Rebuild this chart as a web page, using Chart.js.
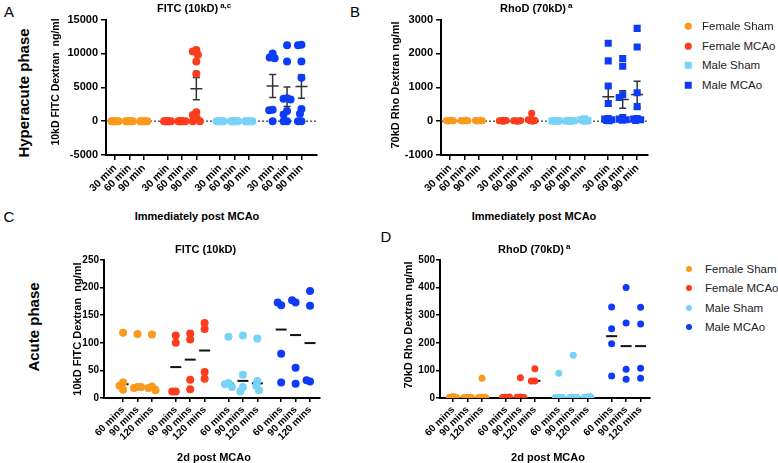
<!DOCTYPE html>
<html>
<head>
<meta charset="utf-8">
<script src="https://cdn.jsdelivr.net/npm/chart.js@4.4.1/dist/chart.umd.min.js"></script>
<style>
  body { margin: 0; background: #fff; }
  #fig { position: relative; width: 778px; height: 463px; overflow: hidden; font-family: "Liberation Sans", Arial, Helvetica, sans-serif; color: #000; }
  #fig canvas { position: absolute; }
  .c { position: absolute; white-space: nowrap; transform: translate(-50%, -50%); }
  .l { position: absolute; white-space: nowrap; transform: translateY(-50%); font-weight: bold; font-size: 11px; }
  .v { position: absolute; white-space: nowrap; transform: translate(-50%, -50%) rotate(-90deg); }
  .b { font-weight: bold; }
  .sup { font-size: 8px; position: relative; top: -4px; margin-left: 2px; }
  .leg { position: absolute; white-space: nowrap; transform: translateY(-50%); font-size: 11.5px; color: #222; }
  .mk { position: absolute; width: 6px; height: 6px; transform: translate(-50%, -50%); }
</style>
</head>
<body>
<div id="fig">
  <div class="c" style="left:9px;top:11px;font-size:15px;">A</div>
  <div class="c" style="left:355px;top:11px;font-size:15px;">B</div>
  <div class="c" style="left:9px;top:216px;font-size:15px;">C</div>
  <div class="c" style="left:386px;top:236px;font-size:15px;">D</div>

  <div class="v b" style="left:23px;top:93px;font-size:15px;">Hyperacute phase</div>
  <div class="v b" style="left:33px;top:327px;font-size:15px;">Acute phase</div>

  <div class="v b" style="left:55px;top:82px;font-size:10.5px;">10kD FITC Dextran&nbsp; ng/ml</div>
  <div class="v b" style="left:395px;top:85px;font-size:11px;">70kD Rho Dextran ng/ml</div>
  <div class="v b" style="left:77px;top:329px;font-size:11px;">10kD FITC Dextran&nbsp; ng/ml</div>
  <div class="v b" style="left:408px;top:325px;font-size:11px;">70kD Rho Dextran ng/ml</div>

  <div class="l" style="left:157px;top:8px;">FITC (10kD)<span class="sup">a,c</span></div>
  <div class="l" style="left:500px;top:8px;">RhoD (70kD)<span class="sup">a</span></div>
  <div class="l" style="left:175px;top:249px;">FITC (10kD)</div>
  <div class="l" style="left:498px;top:249px;">RhoD (70kD)<span class="sup">a</span></div>

  <div class="c b" style="left:197px;top:216px;font-size:11px;">Immediately post MCAo</div>
  <div class="c b" style="left:534px;top:216px;font-size:11px;">Immediately post MCAo</div>
  <div class="c b" style="left:214px;top:457px;font-size:11px;">2d post MCAo</div>
  <div class="c b" style="left:548px;top:457px;font-size:11px;">2d post MCAo</div>
</div>

<script>
// x-axis tick labels
const hyperTimes = ['30 min', '60 min', '90 min'];
const acuteTimes = ['60 mins', '90 mins', '120 mins'];

const groupNames = ['Female Sham', 'Female MCAo', 'Male Sham', 'Male MCAo'];
const groupColors = ['#FA9A1C', '#FD3C1D', '#79D2F8', '#0C3CF7'];

// y-axis tick values
const fitcHyperTicks = [-5000, 0, 5000, 10000, 15000];
const rhoHyperTicks = [-1000, 0, 1000, 2000, 3000];
const fitcAcuteTicks = [0, 50, 100, 150, 200, 250];
const rhoAcuteTicks = [0, 100, 200, 300, 400, 500];

// A: FITC (10kD), immediately post MCAo  [30 min, 60 min, 90 min]
const fitcHyperFemaleSham = [[0, 0, 0, 0, 0, 0], [0, 0, 0, 0, 0, 0], [0, 0, 0, 0, 0, 0]];
const fitcHyperFemaleMCAo = [[0, 0, 0, 0, 0, 0], [0, 0, 0, 0, 0, 0], [10500, 10300, 9800, 8800, 7000, 1300, 900, 400, 0, 0]];
const fitcHyperMaleSham = [[0, 0, 0, 0, 0, 0], [0, 0, 0, 0, 0, 0], [0, 0, 0, 0, 0, 0]];
const fitcHyperMaleMCAo = [[10000, 9400, 9300, 1700, 1600, 0], [11200, 8800, 3400, 3300, 3200, 1500, 1000, 0, 0], [11300, 11200, 8800, 6400, 1800, 1100, 0, 0]];
const fitcHyperMean = [0, 0, 0, 0, 0, 4800, 0, 0, 0, 5200, 3600, 5100];
const fitcHyperSem = [0, 0, 0, 0, 0, 1650, 0, 0, 0, 1700, 1450, 1700];

// B: RhoD (70kD), immediately post MCAo
const rhoHyperFemaleSham = [[10, 20, 15, 5, 25], [10, 20, 15, 5, 25], [10, 20, 15, 5, 25]];
const rhoHyperFemaleMCAo = [[0, 10, 20, 5, 15, 30], [0, 10, 20, 5, 15], [230, 60, 40, 20, 10, 0]];
const rhoHyperMaleSham = [[0, 5, 10, 15, 5], [0, 5, 10, 15, 5], [70, 40, 20, 10, 0, 30]];
const rhoHyperMaleMCAo = [[2300, 1780, 1040, 520, 80, 60, 40, 20, 10], [1850, 1620, 780, 700, 110, 60, 40, 30], [2740, 2190, 840, 430, 80, 60, 40, 20]];
const rhoHyperMean = [15, 15, 15, 15, 10, 55, 8, 8, 30, 720, 640, 790];
const rhoHyperSem = [3, 3, 3, 4, 3, 35, 3, 3, 10, 280, 260, 390];

// C: FITC (10kD), 2d post MCAo  [60 mins, 90 mins, 120 mins]
const fitcAcuteFemaleSham = [[118, 28, 22, 15], [116, 20, 18, 20], [115, 21, 18, 14]];
const fitcAcuteFemaleMCAo = [[113, 100, 12, 12], [117, 106, 33, 16], [136, 125, 47, 35]];
const fitcAcuteMaleSham = [[111, 27, 25, 20], [113, 42, 20, 12], [108, 31, 22, 14]];
const fitcAcuteMaleMCAo = [[168, 173, 80, 28], [173, 177, 55, 26], [194, 167, 30, 32]];

// D: RhoD (70kD), 2d post MCAo
const rhoAcuteFemaleSham = [[5, 3, 2, 4], [3, 2, 3, 2], [72, 3, 2, 3]];
const rhoAcuteFemaleMCAo = [[3, 2, 4, 3], [73, 4, 3, 2], [106, 62, 62]];
const rhoAcuteMaleSham = [[90, 3, 2, 3], [155, 3, 2, 3], [4, 3, 2, 5]];
const rhoAcuteMaleMCAo = [[330, 251, 197, 80], [400, 272, 104, 68], [329, 268, 108, 72]];

const FONT = '"Liberation Sans", Arial, Helvetica, sans-serif';
const GAP = 3.65;           // spacing between groups of three time points
const AXW = 46, AXH = 55, PADT = 7, PADR = 8;

const tickPos = [];
for (let g = 0; g < 4; g++) for (let i = 0; i < 3; i++) tickPos.push(g * GAP + i);

function median(a) {
  const s = [...a].sort((p, q) => p - q);
  const m = s.length >> 1;
  return s.length % 2 ? s[m] : (s[m - 1] + s[m]) / 2;
}

// simple beeswarm: horizontal offsets (px) so points don't sit on each other
function swarm(values, pxY, maxOff, minDist) {
  const placed = [], offs = [];
  const cands = [0];
  for (let d = 0.5; d <= maxOff; d += 0.5) cands.push(-d, d);
  values.forEach(v => {
    const yy = v * pxY;
    let best = 0, bestD = -1;
    for (const c of cands) {
      let md = Infinity;
      placed.forEach(p => { md = Math.min(md, Math.hypot(c - p[0], yy - p[1])); });
      if (md >= minDist) { best = c; break; }
      if (md > bestD) { bestD = md; best = c; }
    }
    placed.push([best, yy]);
    offs.push(best);
  });
  return offs;
}

function summaryPlugin(p) {
  return {
    id: 'summary',
    beforeDatasetsDraw(chart) {
      const { ctx, chartArea, scales: { x, y } } = chart;
      ctx.save();
      if (p.zero) {
        const y0 = y.getPixelForValue(0);
        ctx.strokeStyle = '#333';
        ctx.lineWidth = 1.2;
        ctx.setLineDash([2, 2]);
        ctx.beginPath();
        ctx.moveTo(chartArea.left, y0);
        ctx.lineTo(chartArea.right, y0);
        ctx.stroke();
        ctx.setLineDash([]);
      }
      ctx.strokeStyle = p.midColor;
      ctx.lineWidth = p.midWidth;
      tickPos.forEach((c, i) => {
        const px = x.getPixelForValue(c);
        const pm = y.getPixelForValue(p.mid[i]);
        ctx.beginPath();
        if (p.err) {
          const pt = y.getPixelForValue(p.mid[i] + p.err[i]);
          const pb = y.getPixelForValue(p.mid[i] - p.err[i]);
          ctx.moveTo(px, pt); ctx.lineTo(px, pb);
          ctx.moveTo(px - p.capHalf, pt); ctx.lineTo(px + p.capHalf, pt);
          ctx.moveTo(px - p.capHalf, pb); ctx.lineTo(px + p.capHalf, pb);
        }
        ctx.moveTo(px - p.midHalf, pm); ctx.lineTo(px + p.midHalf, pm);
        ctx.stroke();
      });
      ctx.restore();
    }
  };
}

const acuteFitcGroups = [fitcAcuteFemaleSham, fitcAcuteFemaleMCAo, fitcAcuteMaleSham, fitcAcuteMaleMCAo];
const acuteRhoGroups = [rhoAcuteFemaleSham, rhoAcuteFemaleMCAo, rhoAcuteMaleSham, rhoAcuteMaleMCAo];

const panels = [
  { plot: { l: 106, r: 317, t: 17, b: 155 }, xmin: -0.625, xmax: 14.03, ymin: -5000, ymax: 15000, yTicks: fitcHyperTicks, labels: hyperTimes,
    groups: [fitcHyperFemaleSham, fitcHyperFemaleMCAo, fitcHyperMaleSham, fitcHyperMaleMCAo],
    styles: ['circle', 'circle', 'circle', 'circle'], radii: [4, 4, 4, 4], yFont: 11, xFont: 10.5, tickLen: 5, yPad: 3,
    zero: true, mid: fitcHyperMean, err: fitcHyperSem, midHalf: 6, capHalf: 3.5, midColor: '#333', midWidth: 1.5 },
  { plot: { l: 441, r: 648, t: 17, b: 155 }, xmin: -0.62, xmax: 13.7, ymin: -1000, ymax: 3000, yTicks: rhoHyperTicks, labels: hyperTimes,
    groups: [rhoHyperFemaleSham, rhoHyperFemaleMCAo, rhoHyperMaleSham, rhoHyperMaleMCAo],
    styles: ['circle', 'circle', 'rect', 'rect'], radii: [3.5, 3.5, 5, 5], yFont: 11, xFont: 10.5, tickLen: 5, yPad: 3,
    zero: true, mid: rhoHyperMean, err: rhoHyperSem, midHalf: 6, capHalf: 3.5, midColor: '#333', midWidth: 1.5 },
  { plot: { l: 104, r: 320, t: 260, b: 398 }, xmin: -1.32, xmax: 13.64, ymin: 0, ymax: 250, yTicks: fitcAcuteTicks, labels: acuteTimes,
    groups: acuteFitcGroups,
    styles: ['circle', 'circle', 'circle', 'circle'], radii: [4, 4, 4, 4], yFont: 10, xFont: 10, tickLen: 4, yPad: 1,
    zero: false, mid: acuteFitcGroups.flatMap(g => g.map(median)), err: null, midHalf: 5.5, capHalf: 0, midColor: '#111', midWidth: 2 },
  { plot: { l: 440, r: 650, t: 260, b: 398 }, xmin: -0.9, xmax: 13.6, ymin: 0, ymax: 500, yTicks: rhoAcuteTicks, labels: acuteTimes,
    groups: acuteRhoGroups,
    styles: ['circle', 'circle', 'circle', 'circle'], radii: [3.5, 3.5, 3.5, 3.5], yFont: 10, xFont: 10, tickLen: 4, yPad: 1,
    zero: false, mid: acuteRhoGroups.flatMap(g => g.map(median)), err: null, midHalf: 5.5, capHalf: 0, midColor: '#111', midWidth: 2 }
];

const fig = document.getElementById('fig');

panels.forEach(p => {
  const w = p.plot.r - p.plot.l + AXW + PADR;
  const h = p.plot.b - p.plot.t + PADT + AXH;
  const cv = document.createElement('canvas');
  cv.width = w; cv.height = h;
  cv.style.left = (p.plot.l - AXW) + 'px';
  cv.style.top = (p.plot.t - PADT) + 'px';
  cv.style.width = w + 'px';
  cv.style.height = h + 'px';
  fig.insertBefore(cv, fig.firstChild);

  const pxX = (p.plot.r - p.plot.l) / (p.xmax - p.xmin);
  const pxY = (p.plot.b - p.plot.t) / (p.ymax - p.ymin);

  const datasets = p.groups.map((grp, g) => {
    const pts = [];
    grp.forEach((vals, i) => {
      const offs = swarm(vals, pxY, 3.5, 5);
      vals.forEach((v, k) => pts.push({ x: tickPos[g * 3 + i] + offs[k] / pxX, y: v }));
    });
    return {
      label: groupNames[g],
      data: pts,
      showLine: false,
      pointStyle: p.styles[g],
      pointRadius: p.radii[g],
      pointHoverRadius: p.radii[g],
      pointBackgroundColor: groupColors[g],
      pointBorderColor: groupColors[g],
      pointBorderWidth: 0
    };
  });

  const grid = { drawOnChartArea: false, drawTicks: true, tickLength: p.tickLen, color: '#000', lineWidth: 1.5 };
  const border = { color: '#000', width: 2 };

  new Chart(cv, {
    type: 'scatter',
    data: { datasets },
    options: {
      responsive: false,
      animation: false,
      devicePixelRatio: 1,
      layout: { padding: { top: PADT, right: PADR, left: 0, bottom: 0 } },
      plugins: { legend: { display: false }, tooltip: { enabled: false } },
      scales: {
        x: {
          type: 'linear', min: p.xmin, max: p.xmax,
          afterBuildTicks: s => { s.ticks = tickPos.map(v => ({ value: v })); },
          afterFit: s => { s.height = AXH; },
          ticks: { autoSkip: false, minRotation: 45, maxRotation: 45, padding: 2, color: '#000', font: { family: FONT, size: p.xFont, weight: 'bold' },
                   callback: (v, i) => p.labels[i % 3] },
          grid, border
        },
        y: {
          type: 'linear', min: p.ymin, max: p.ymax,
          afterBuildTicks: s => { s.ticks = p.yTicks.map(v => ({ value: v })); },
          afterFit: s => { s.width = AXW; },
          ticks: { padding: p.yPad, color: '#000', font: { family: FONT, size: p.yFont, weight: 'bold' }, callback: v => String(v) },
          grid, border
        }
      }
    },
    plugins: [summaryPlugin(p)]
  });
});

// legends for B and D
function legend(x, textX, rows, shapes, size) {
  rows.forEach((yy, g) => {
    const mk = document.createElement('div');
    mk.className = 'mk';
    mk.style.left = x + 'px';
    mk.style.top = yy + 'px';
    mk.style.width = size + 'px';
    mk.style.height = size + 'px';
    mk.style.background = groupColors[g];
    if (shapes[g] === 'circle') mk.style.borderRadius = '50%';
    fig.appendChild(mk);
    const t = document.createElement('div');
    t.className = 'leg';
    t.style.left = textX + 'px';
    t.style.top = yy + 'px';
    t.textContent = groupNames[g];
    fig.appendChild(t);
  });
}
legend(688, 702, [26, 46, 65, 85], ['circle', 'circle', 'rect', 'rect'], 6.5);
legend(689, 705, [269, 288, 308, 327], ['circle', 'circle', 'circle', 'circle'], 6);
</script>
</body>
</html>
